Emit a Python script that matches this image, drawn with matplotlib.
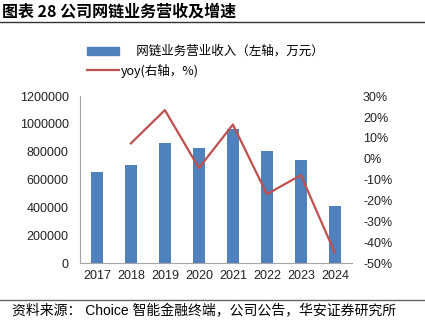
import matplotlib
matplotlib.use("Agg")
import matplotlib.pyplot as plt
import matplotlib.ticker as mticker
from matplotlib.lines import Line2D
from matplotlib.patches import Patch

plt.rcParams["font.family"] = ["Liberation Sans", "Noto Sans CJK SC", "DejaVu Sans"]

years = ["2017", "2018", "2019", "2020", "2021", "2022", "2023", "2024"]
revenue = [657000, 703000, 865000, 829000, 963000, 803000, 741000, 411000]
yoy_years = ["2018", "2019", "2020", "2021", "2022", "2023", "2024"]
yoy = [7.4, 23.3, -4.4, 16.4, -16.9, -7.8, -45.0]

BAR_C = "#4F81BD"
LINE_C = "#C0504D"
CJK = ["Noto Sans CJK SC", "DejaVu Sans"]

fig = plt.figure(figsize=(4.25, 3.28), dpi=100)
ax = fig.add_axes([0.188, 0.197, 0.640, 0.510])
ax2 = ax.twinx()

x = list(range(len(years)))
ax.bar(x, revenue, width=0.35, color=BAR_C, zorder=2)
ax.set_xlim(-0.5, len(years) - 0.5)
ax.set_ylim(0, 1200000)
ax.yaxis.set_major_locator(mticker.MultipleLocator(200000))
ax.yaxis.set_major_formatter(mticker.FuncFormatter(lambda v, _: f"{v:.0f}"))
ax.set_xticks(x)
ax.set_xticklabels(years)

xi = [years.index(y) for y in yoy_years]
ax2.plot(xi, yoy, color=LINE_C, linewidth=1.6, zorder=3)
ax2.set_ylim(-50, 30)
ax2.yaxis.set_major_locator(mticker.MultipleLocator(10))
ax2.yaxis.set_major_formatter(mticker.FuncFormatter(lambda v, _: f"{v:.0f}%"))

for a in (ax, ax2):
    for sp in ("top", "right"):
        a.spines[sp].set_visible(False)
    a.tick_params(length=0, labelsize=9, colors="#222222")
ax2.spines["left"].set_visible(False)
ax2.spines["bottom"].set_visible(False)
ax.spines["left"].set_color("#A6A6A6")
ax.spines["bottom"].set_color("#A6A6A6")
ax.tick_params(axis="y", pad=8)
ax.tick_params(axis="x", pad=5)
ax2.tick_params(axis="y", pad=8)

# title and rules
fig.text(0.005, 0.965, "图表 28 公司网链业务营收及增速", family=CJK,
         fontsize=11.5, fontweight="bold", va="center", ha="left")
fig.add_artist(Line2D([0, 1], [1 - 22 / 328] * 2, color="#333333", linewidth=1.0))
fig.add_artist(Line2D([0, 1], [1 - 300 / 328] * 2, color="#666666", linewidth=1.0))
fig.text(12 / 425, 1 - 311 / 328, "资料来源： Choice 智能金融终端，公司公告，华安证券研究所",
         family=["Liberation Sans", "Noto Sans CJK SC"], fontsize=10,
         va="center", ha="left")

handles = [Patch(color=BAR_C), Line2D([0], [0], color=LINE_C, linewidth=1.6)]
labels = ["\u3000 网链业务营业收入（左轴，万元）", "yoy(右轴，%)"]
fig.legend(handles, labels, loc="upper left", bbox_to_anchor=(0.178, 0.897),
           frameon=False, prop={"family": CJK, "size": 9},
           handlelength=2.6, handleheight=0.6, labelspacing=0.45, handletextpad=0.15)

fig.savefig("out.png", dpi=100)
